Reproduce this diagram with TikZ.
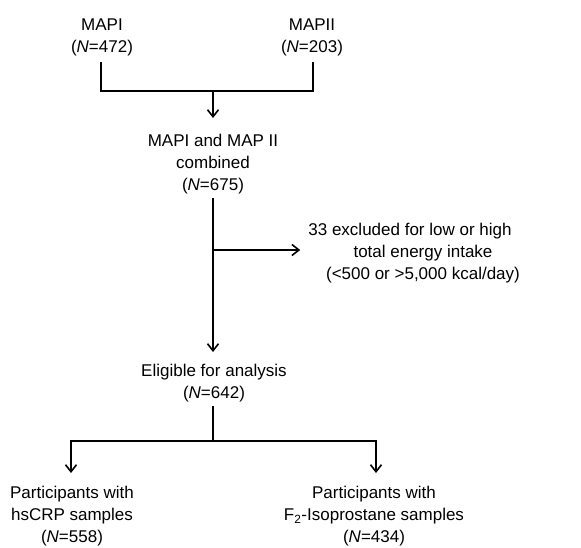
\documentclass[tikz,border=0pt]{standalone}
\usepackage{fontspec}
\setmainfont{Liberation Sans}
\usetikzlibrary{arrows.meta}
\begin{document}
\begin{tikzpicture}[x=1pt,y=-1pt,
  lbl/.style={inner sep=0pt,align=center,font=\fontsize{17}{22}\selectfont},
  conn/.style={line width=1.6pt,black},
  arr/.style={conn,-{Straight Barb[length=7pt,width=11pt,line width=1.6pt]}}]
\useasboundingbox (0,0) rectangle (581,547);
\node[lbl] (m1) at (102,37) {MAPI\\(\textit{N}=472)};
\node[lbl] (m2) at (312,37) {MAPII\\(\textit{N}=203)};
\node[lbl] (comb) at (213,164) {MAPI and MAP II\\combined\\(\textit{N}=675)};
\node[lbl] (excl) at (423,253) {33 excluded for low or high\hspace*{26pt}\\total energy intake\\(<500 or >5,000 kcal/day)};
\node[lbl] (elig) at (214,383) {Eligible for analysis\\(\textit{N}=642)};
\node[lbl] (p1) at (72,516) {Participants with\\hsCRP samples\\(\textit{N}=558)};
\node[lbl] (p2) at (374,516) {Participants with\\F\textsubscript{2}-Isoprostane samples\\(\textit{N}=434)};
\coordinate (j1) at (213,91);
\coordinate (j2) at (213,250);
\coordinate (j3) at (213,441);
\coordinate (t1) at (213,118);
\coordinate (t2) at (213,352);
\coordinate (b1) at (71,473);
\coordinate (b2) at (376,473);
\draw[conn] ([xshift=-1pt,yshift=-6pt]m1.south) |- (j1) -| ([xshift=1pt,yshift=-6pt]m2.south);
\draw[arr] (j1) -- (t1);
\draw[arr] ([yshift=-4pt]comb.south -| t2) -- (t2);
\draw[arr] (j2) -- ([xshift=-8pt]excl.west |- j2);
\draw[conn] ([yshift=-4pt]elig.south -| j3) -- (j3);
\draw[arr] (j3) -| (b1);
\draw[arr] (j3) -| (b2);
\end{tikzpicture}
\end{document}
